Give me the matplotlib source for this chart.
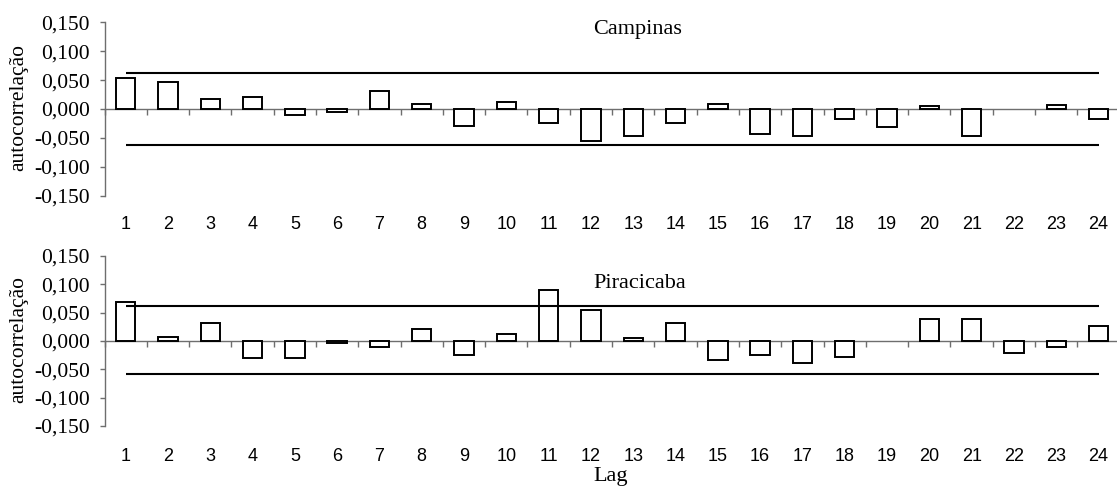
import matplotlib
matplotlib.use('Agg')
import matplotlib.pyplot as plt
from matplotlib.ticker import FixedLocator

# ---- data ----
lags = list(range(1, 25))
campinas = [0.053, 0.047, 0.018, 0.021, -0.011, -0.005, 0.031, 0.009, -0.030, 0.012,
            -0.024, -0.056, -0.047, -0.024, 0.009, -0.044, -0.047, -0.017, -0.031, 0.006,
            -0.047, 0.0, 0.007, -0.017]
piracicaba = [0.068, 0.007, 0.032, -0.030, -0.030, -0.004, -0.011, 0.022, -0.024, 0.012,
              0.090, 0.054, 0.006, 0.032, -0.034, -0.025, -0.038, -0.028, 0.0, 0.039,
              0.039, -0.021, -0.010, 0.026]
campinas_limits = [0.063, -0.063]
piracicaba_limits = [0.061, -0.059]
yticks = [0.15, 0.10, 0.05, 0.0, -0.05, -0.10, -0.15]
ytick_labels = ['0,150', '0,100', '0,050', '0,000', '-0,050', '-0,100', '-0,150']
titles = ['Campinas', 'Piracicaba']
ylabel = 'autocorrelação'
xlabel = 'Lag'

W, H = 1117, 487
fig = plt.figure(figsize=(W / 100, H / 100), dpi=100)

serif = 'Liberation Serif'
sans = 'Liberation Sans'
axis_grey = '#6e6e6e'

left = 104.5 / W
width = 24 * 42.3 / W
panels = [
    dict(top=22.3, bottom=195.7, values=campinas, limits=campinas_limits,
         title=titles[0], title_base=33.7),
    dict(top=256.0, bottom=426.0, values=piracicaba, limits=piracicaba_limits,
         title=titles[1], title_base=288.0),
]

for p in panels:
    ax = fig.add_axes([left, 1 - p['bottom'] / H, width, (p['bottom'] - p['top']) / H])
    ax.set_xlim(0.5, 24.5)
    ax.set_ylim(-0.15, 0.15)
    edge_colors = ['black' if v != 0 else 'none' for v in p['values']]
    ax.bar(lags, p['values'], width=0.46, color='white', edgecolor=edge_colors,
           linewidth=1.4, zorder=3)
    for lim in p['limits']:
        ax.hlines(lim, lags[0], lags[-1], color='black', linewidth=1.5, zorder=4)

    for s in ['top', 'right']:
        ax.spines[s].set_visible(False)
    ax.spines['left'].set_color(axis_grey)
    ax.spines['left'].set_linewidth(1.0)
    ax.spines['bottom'].set_position(('data', 0))
    ax.spines['bottom'].set_color(axis_grey)
    ax.spines['bottom'].set_linewidth(1.0)
    ax.spines['bottom'].set_zorder(2)

    ax.set_yticks(yticks)
    ax.set_yticklabels(ytick_labels, fontfamily=serif, fontsize=15.5)
    ax.tick_params(axis='y', direction='out', length=3.6, width=1.0,
                   color=axis_grey, pad=7)

    ax.set_xticks(lags)
    ax.set_xticklabels([str(l) for l in lags], fontfamily=sans, fontsize=13)
    ax.xaxis.set_minor_locator(FixedLocator([l - 0.5 for l in lags] + [lags[-1] + 0.5]))
    ax.tick_params(axis='x', which='major', length=0, pad=77)
    ax.tick_params(axis='x', which='minor', direction='out', length=4.3,
                   width=1.0, color=axis_grey)

    fig.text(593 / W, 1 - p['title_base'] / H, p['title'], fontfamily=serif,
             fontsize=16, ha='left', va='baseline')
    fig.text(19 / W, 1 - (p['top'] + p['bottom']) / 2 / H + 0.004, ylabel,
             fontfamily=serif, fontsize=15.5, rotation=90, ha='center', va='center')

fig.text(593 / W, 1 - 481 / H, xlabel, fontfamily=serif, fontsize=16,
         ha='left', va='baseline')

fig.savefig('out.png', dpi=100)
